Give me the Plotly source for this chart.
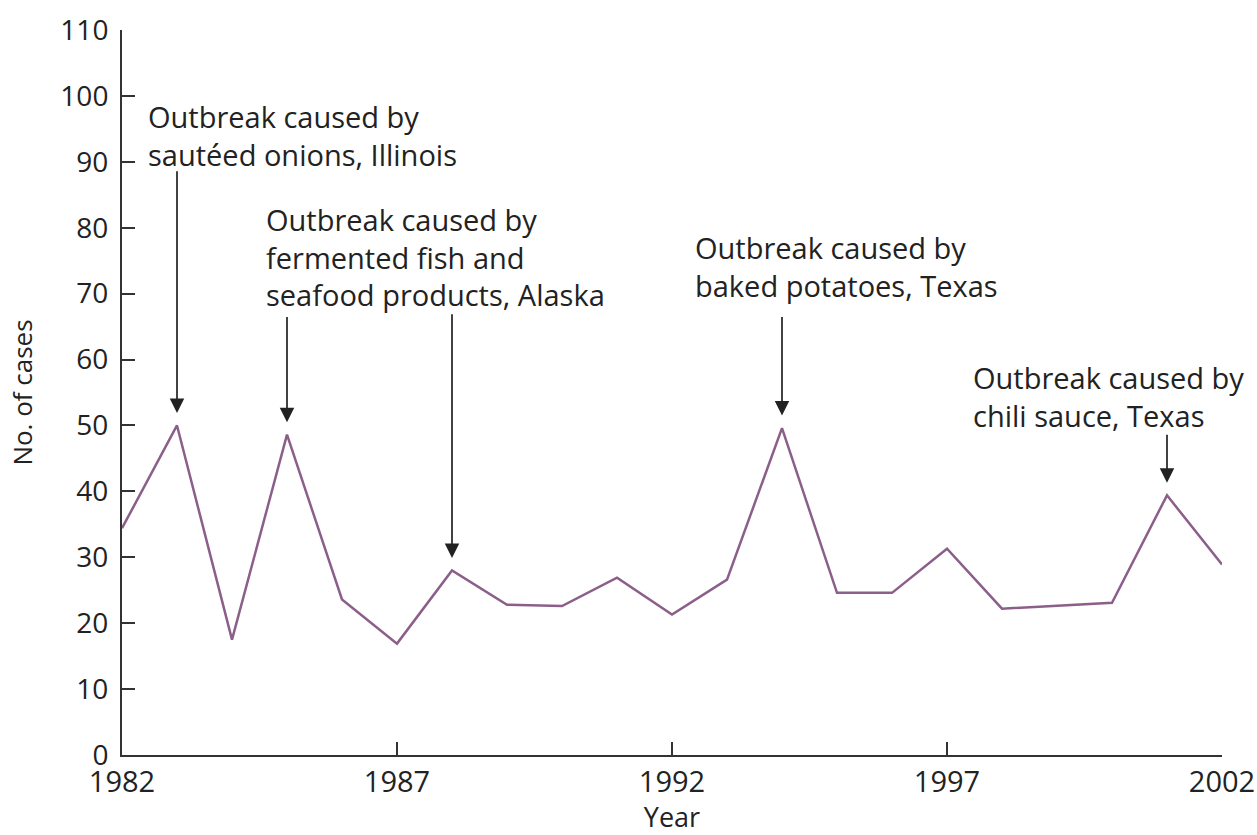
import plotly.graph_objects as go

years = list(range(1982, 2003))
cases = [34.4, 50.0, 17.5, 48.6, 23.6, 16.9, 28.0, 22.8, 22.6, 26.9, 21.3,
         26.6, 49.6, 24.6, 24.6, 31.3, 22.2, 22.6, 23.1, 39.4, 28.9]

x_ticks = [1982, 1987, 1992, 1997, 2002]
y_ticks = list(range(0, 111, 10))

# outbreak annotations
outbreak_years = [1983, 1985, 1988, 1994, 2001]
outbreak_tail_y = [88.8, 66.7, 67.1, 66.7, 48.8]
label_texts = [
    "Outbreak caused by<br>sautéed onions, Illinois",
    "Outbreak caused by<br>fermented fish and<br>seafood products, Alaska",
    "Outbreak caused by<br>baked potatoes, Texas",
    "Outbreak caused by<br>chili sauce, Texas",
]
label_x = [1982.44, 1984.58, 1992.38, 1997.44]
label_top = [100.1, 84.5, 80.2, 60.5]

line_color = "#8b5f8a"
ink = "#222222"
font_family = "Open Sans"

fig = go.Figure()
fig.add_trace(go.Scatter(x=years, y=cases, mode="lines",
                         line=dict(color=line_color, width=2.5),
                         hoverinfo="skip", showlegend=False))

case_by_year = dict(zip(years, cases))
for yr, tail in zip(outbreak_years, outbreak_tail_y):
    fig.add_annotation(x=yr, y=case_by_year[yr] + 1.9, ax=yr, ay=tail,
                       xref="x", yref="y", axref="x", ayref="y",
                       text="", showarrow=True, arrowhead=2, arrowsize=1.7,
                       arrowwidth=1.7, arrowcolor=ink, standoff=0)

for txt, lx, ly in zip(label_texts, label_x, label_top):
    fig.add_annotation(x=lx, y=ly, xref="x", yref="y", text=txt,
                       showarrow=False, xanchor="left", yanchor="top",
                       align="left",
                       font=dict(family=font_family, size=29, color=ink))

fig.update_layout(
    width=1257, height=835,
    margin=dict(l=122, r=35, t=30, b=80),
    paper_bgcolor="white", plot_bgcolor="white",
    font=dict(family=font_family, color=ink),
)
fig.update_xaxes(range=[1982, 2002], tickvals=x_ticks,
                 ticktext=[str(v) for v in x_ticks],
                 automargin=False,
                 showgrid=False, zeroline=False, showline=True,
                 linecolor="#333333", linewidth=2,
                 ticks="inside", ticklen=13, tickwidth=1.5, tickcolor="#333333",
                 tickfont=dict(family=font_family, size=29, color=ink),
                 title=dict(text="Year", font=dict(family=font_family, size=27, color=ink),
                            standoff=14))
fig.update_yaxes(range=[0, 110], tickvals=y_ticks,
                 ticktext=[str(v) for v in y_ticks],
                 automargin=False,
                 showgrid=False, zeroline=False, showline=True,
                 linecolor="#333333", linewidth=2,
                 ticks="inside", ticklen=13, tickwidth=1.5, tickcolor="#333333",
                 ticklabelstandoff=6,
                 tickfont=dict(family=font_family, size=28, color=ink),
                 title=dict(text="No. of cases", font=dict(family=font_family, size=26, color=ink),
                            standoff=20))

fig.write_html("out.html", config={"displayModeBar": False},
               post_script="document.body.style.margin='0px';document.body.style.overflow='hidden';")
